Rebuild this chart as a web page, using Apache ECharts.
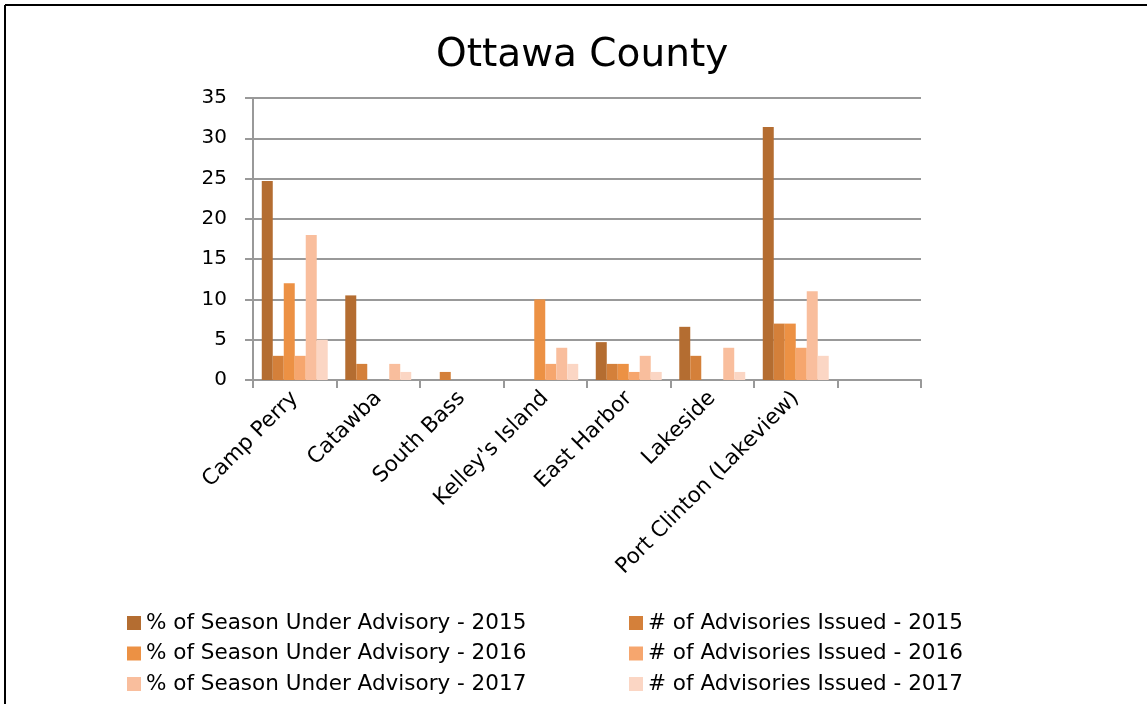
<!DOCTYPE html>
<html>
<head>
<meta charset="utf-8">
<script src="https://cdn.jsdelivr.net/npm/echarts@6/dist/echarts.min.js"></script>
<style>
html,body{margin:0;padding:0;background:#fff;}
#chart{width:1147px;height:704px;}
</style>
</head>
<body>
<div id="chart"></div>
<script>
const categories = ["Camp Perry", "Catawba", "South Bass", "Kelley's Island", "East Harbor", "Lakeside", "Port Clinton (Lakeview)", ""];
const pct2015 = [24.7, 10.5, 0, 0, 4.7, 6.6, 31.4, 0];
const num2015 = [3, 2, 1, 0, 2, 3, 7, 0];
const pct2016 = [12, 0, 0, 10, 2, 0, 7, 0];
const num2016 = [3, 0, 0, 2, 1, 0, 4, 0];
const pct2017 = [18, 2, 0, 4, 3, 4, 11, 0];
const num2017 = [5, 1, 0, 2, 1, 1, 3, 0];
const yTicks = [0, 5, 10, 15, 20, 25, 30, 35];

const seriesDefs = [
  {name: "% of Season Under Advisory - 2015", data: pct2015, color: "#B46D31"},
  {name: "# of Advisories Issued - 2015", data: num2015, color: "#D4803A"},
  {name: "% of Season Under Advisory - 2016", data: pct2016, color: "#EC9144"},
  {name: "# of Advisories Issued - 2016", data: num2016, color: "#F6A66E"},
  {name: "% of Season Under Advisory - 2017", data: pct2017, color: "#F9BE9D"},
  {name: "# of Advisories Issued - 2017", data: num2017, color: "#FBD6C4"}
];

const FONT = "DejaVu Sans";
const chart = echarts.init(document.getElementById('chart'), null, {renderer: 'canvas'});
const legendCommon = {
  orient: 'vertical', itemWidth: 14, itemHeight: 14, itemGap: 8.5, height: 120,
  icon: 'rect',
  textStyle: {fontFamily: FONT, fontSize: 21.5, color: '#000', padding: [0, 0, 0, 0]},
  selectedMode: false
};
chart.setOption({
  animation: false,
  backgroundColor: '#fff',
  title: {
    text: 'Ottawa County', left: 436, top: 36, itemGap: 0, padding: 0,
    textStyle: {fontFamily: FONT, fontSize: 39, fontWeight: 'normal', color: '#000'}
  },
  legend: [
    Object.assign({left: 122, top: 607, data: seriesDefs.filter((s, i) => i % 2 === 0).map(s => s.name)}, legendCommon),
    Object.assign({left: 624, top: 607, data: seriesDefs.filter((s, i) => i % 2 === 1).map(s => s.name)}, legendCommon)
  ],
  grid: {left: 253, right: 226, top: 98, bottom: 324, containLabel: false},
  xAxis: {
    type: 'category', data: categories,
    axisLine: {lineStyle: {color: '#999', width: 2}},
    axisTick: {show: true, length: 8, lineStyle: {color: '#999', width: 2}},
    axisLabel: {rotate: 45, fontFamily: FONT, fontSize: 21.5, color: '#000', margin: 15, interval: 0}
  },
  yAxis: {
    type: 'value', min: yTicks[0], max: yTicks[yTicks.length - 1], interval: 5,
    axisLine: {show: true, lineStyle: {color: '#999', width: 2}},
    axisTick: {show: true, length: 8, lineStyle: {color: '#999', width: 2}},
    axisLabel: {fontFamily: FONT, fontSize: 20, color: '#000', margin: 26},
    splitLine: {lineStyle: {color: '#999', width: 2}}
  },
  series: seriesDefs.map(s => ({
    name: s.name, type: 'bar', data: s.data,
    barGap: '0%', barCategoryGap: '21%',
    itemStyle: {color: s.color}
  })),
  graphic: [
    {type: 'line', shape: {x1: 5, y1: 5, x2: 1147, y2: 5}, style: {stroke: '#000', lineWidth: 2}},
    {type: 'line', shape: {x1: 5, y1: 5, x2: 5, y2: 704}, style: {stroke: '#000', lineWidth: 2}}
  ]
});
</script>
</body>
</html>
